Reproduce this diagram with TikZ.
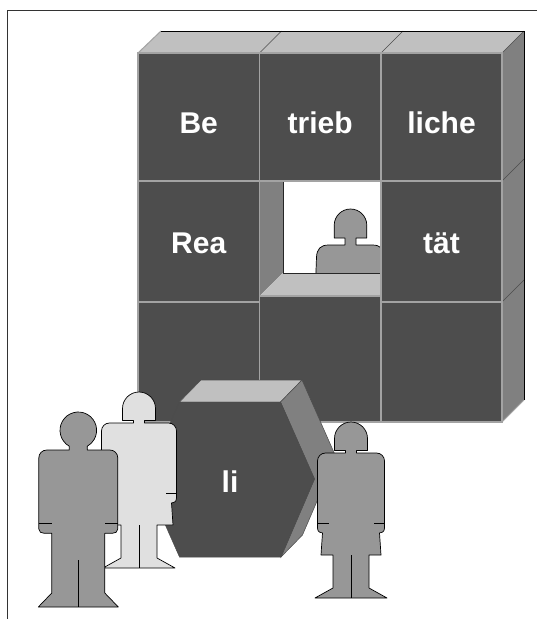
\documentclass[tikz,border=0pt]{standalone}
\usepackage{fontspec}
\setmainfont{Liberation Sans}
\definecolor{cellc}{HTML}{4D4D4D}
\definecolor{gridc}{HTML}{A3A3A3}
\definecolor{topc}{HTML}{C0C0C0}
\definecolor{sidec}{HTML}{808080}
\definecolor{personc}{HTML}{979797}
\definecolor{lightp}{HTML}{E0E0E0}
\tikzset{
  cellbox/.style={fill=cellc, draw=gridc, line width=1.4pt},
  word/.style={text=white, font=\fontsize{30}{30}\selectfont\bfseries, anchor=base, inner sep=0pt},
  figline/.style={draw=black, line width=0.7pt, line join=round},
  thinedge/.style={draw=black!70, line width=0.5pt},
}
% woman figure: #1 cx, #2 top, #3 fill, #4 body half width, #5 skirt half width
\newcommand{\womanfig}[5]{%
\begin{scope}[shift={(#1,#2)}]
\filldraw[figline, fill=#3] (-5.5,31) -- (-5.5,28.5) -- (-16.5,28.5) -- (-16.5,16.5)
  arc[start angle=180, end angle=360, radius=16.5] -- (16.5,28.5) -- (5.5,28.5) -- (5.5,31)
  -- (#4-8,31) .. controls (#4-3.5,31) and (#4,34.5) .. (#4,39)
  -- (#4,106) .. controls (#4,110) and (#4-3,111) .. (#5,111)
  -- (#5+1.5,133) -- (18,133) -- (18,166) -- (36,176) -- (-36,176) -- (-18,166) -- (-18,133)
  -- (-#5-1.5,133) -- (-#5,111) .. controls (-#4+3,111) and (-#4,110) .. (-#4,106)
  -- (-#4,39) .. controls (-#4,34.5) and (-#4+3.5,31) .. (-#4+8,31) -- cycle;
\draw[figline] (#4,101) -- (#4-11,101) (-#4,101) -- (-#4+11,101) (0,133) -- (0,176);
\end{scope}}
\begin{document}
\begin{tikzpicture}[x=1pt,y=-1pt]
\useasboundingbox (0,0) rectangle (537,619);
\fill[white] (0,0) rectangle (537,619);
% frame
\draw[black!80, line width=1pt] (7.3,619) -- (7.3,10.3) -- (537,10.3);

% block: top and side faces
\fill[topc] (138,53) -- (161,31) -- (524,31) -- (502,53) -- cycle;
\fill[sidec] (502,53) -- (524,31) -- (524,400) -- (502,422) -- cycle;
\draw[gridc, line width=1pt] (138,53) -- (161,31) (524,400) -- (502,422);
\draw[thinedge] (259.5,53) -- (281.5,31) (381,53) -- (403,31) (502,53) -- (524,31)
  (502,181) -- (524,159) (502,302) -- (524,280);
\draw[black, line width=0.8pt] (161,31) -- (524,31) -- (524,400);

% window opening
\fill[white] (283,181) rectangle (381,273);
\begin{scope}
\clip (283,181) rectangle (381,273);
\begin{scope}[shift={(350.5,209)}]
\filldraw[figline, fill=personc] (-5.5,36) -- (-5.5,29) -- (-16.3,29) -- (-16.3,16.3)
  arc[start angle=180, end angle=360, radius=16.3] -- (16.3,29) -- (5.5,29) -- (5.5,36)
  -- (22,36) .. controls (30,36) and (33.5,40) .. (34,48) -- (35,75) -- (-35,75)
  -- (-34,48) .. controls (-33.5,40) and (-30,36) .. (-22,36) -- cycle;
\end{scope}
\end{scope}
\fill[sidec] (259.5,181) -- (283,181) -- (283,273) -- (259.5,296) -- cycle;
\fill[topc] (259.5,296) -- (283,273) -- (381,273) -- (381,296) -- cycle;
\draw[black!85, line width=0.7pt] (283,181) -- (283,273) -- (381,273);

% cells
\path[cellbox] (138,53) rectangle (259.5,181);
\path[cellbox] (259.5,53) rectangle (381,181);
\path[cellbox] (381,53) rectangle (502,181);
\path[cellbox] (138,181) rectangle (259.5,302);
\path[cellbox] (381,181) rectangle (502,302);
\path[cellbox] (138,302) rectangle (259.5,422);
\path[cellbox] (259.5,296) rectangle (381,422);
\path[cellbox] (381,302) rectangle (502,422);

\node[word] (be) at (198.75,133) {Be};
\node[word] (trieb) at (320.25,133) {trieb};
\node[word] (liche) at (441.5,133) {liche};
\node[word] (rea) at (198.75,253.5) {Rea};
\node[word] (taet) at (441.5,253.5) {tät};

% hexagonal block
\filldraw[fill=topc, thinedge] (179.5,402) -- (280.5,402) -- (302,380) -- (201,380) -- cycle;
\filldraw[fill=sidec, thinedge] (280.5,402) -- (302,380) -- (336,457) -- (302.5,535) -- (281,557) -- (314.5,479) -- cycle;
\filldraw[fill=cellc, thinedge] (179.5,402) -- (280.5,402) -- (314.5,479) -- (281,557) -- (179.5,557) -- (145,479) -- cycle;
\node[word] (li) at (230,492.3) {li};

% people
\womanfig{139}{392}{lightp}{37.5}{32.5}
\begin{scope}[shift={(78.3,412)}]
\filldraw[figline, fill=personc] (-9,38) -- (-9,34.23)
  arc[start angle=119.5, end angle=420.5, radius=18.3] -- (9,38)
  -- (31.5,38) .. controls (36,38) and (39.5,41.5) .. (39.5,46)
  -- (39.5,117) .. controls (39.5,120) and (37,121.3) .. (34,121.3)
  -- (26.5,121.3) -- (26.5,181) -- (40,195) -- (-40,195) -- (-26.5,181) -- (-26.5,121.3)
  -- (-34,121.3) .. controls (-37,121.3) and (-39.5,120) .. (-39.5,117)
  -- (-39.5,46) .. controls (-39.5,41.5) and (-36,38) .. (-31.5,38) -- cycle;
\draw[figline] (39.5,111.3) -- (26.5,111.3) (-39.5,111.3) -- (-26.5,111.3) (0,148) -- (0,195);
\end{scope}
\womanfig{351}{422}{personc}{33.5}{28.5}
\end{tikzpicture}
\end{document}
